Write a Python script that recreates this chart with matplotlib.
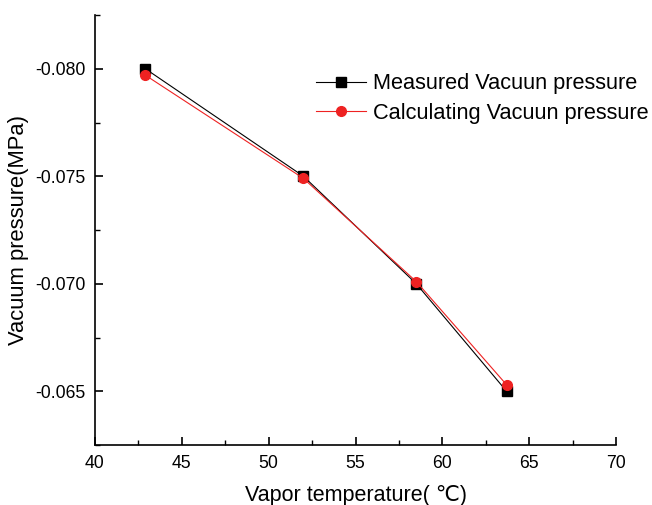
#!/usr/bin/env python3

from matplotlib import pyplot as plt
from matplotlib.ticker import MultipleLocator, FormatStrFormatter

plt.rcParams['font.family'] = ['Liberation Sans', 'DejaVu Sans']

temperature = [42.9, 52.0, 58.5, 63.7]
measured = [-0.0800, -0.0750, -0.0700, -0.0650]
calculated = [-0.0797, -0.0749, -0.0701, -0.0653]

fig = plt.figure(figsize=(6.52, 5.05), dpi=100)
ax = fig.add_axes([0.1457, 0.1188, 0.7991, 0.8515])

ax.plot(temperature, measured, color='black', linewidth=0.8, marker='s',
        markersize=6.5, label='Measured Vacuun pressure')
ax.plot(temperature, calculated, color='#ee2222', linewidth=0.8, marker='o',
        markersize=7, label='Calculating Vacuun pressure')

ax.set_xlim(40, 70)
ax.set_ylim(-0.0625, -0.0825)

ax.xaxis.set_major_locator(MultipleLocator(5))
ax.xaxis.set_minor_locator(MultipleLocator(2.5))
ax.yaxis.set_major_locator(MultipleLocator(0.005))
ax.yaxis.set_minor_locator(MultipleLocator(0.0025))
ax.yaxis.set_major_formatter(FormatStrFormatter('%.3f'))

for side in ('top', 'right'):
    ax.spines[side].set_visible(False)
for side in ('left', 'bottom'):
    ax.spines[side].set_linewidth(1.2)

ax.tick_params(which='major', direction='in', length=6, width=1.2,
               labelsize=12.7)
ax.tick_params(axis='x', which='major', pad=7.5)
ax.tick_params(axis='y', which='major', pad=6.5)
ax.tick_params(which='minor', direction='in', length=3.5, width=1.0)

ax.set_xlabel('Vapor temperature( \u2103)', fontsize=15.5, labelpad=9)
ax.set_ylabel('Vacuum pressure(MPa)', fontsize=15.8, labelpad=4.5)

ax.legend(loc='upper left', bbox_to_anchor=(0.485, 0.855),
          bbox_transform=fig.transFigure, frameon=False, fontsize=15.7,
          handlelength=2.3, handletextpad=0.3, labelspacing=0.4,
          borderpad=0, borderaxespad=0)

plt.savefig('out.png', dpi=100)
